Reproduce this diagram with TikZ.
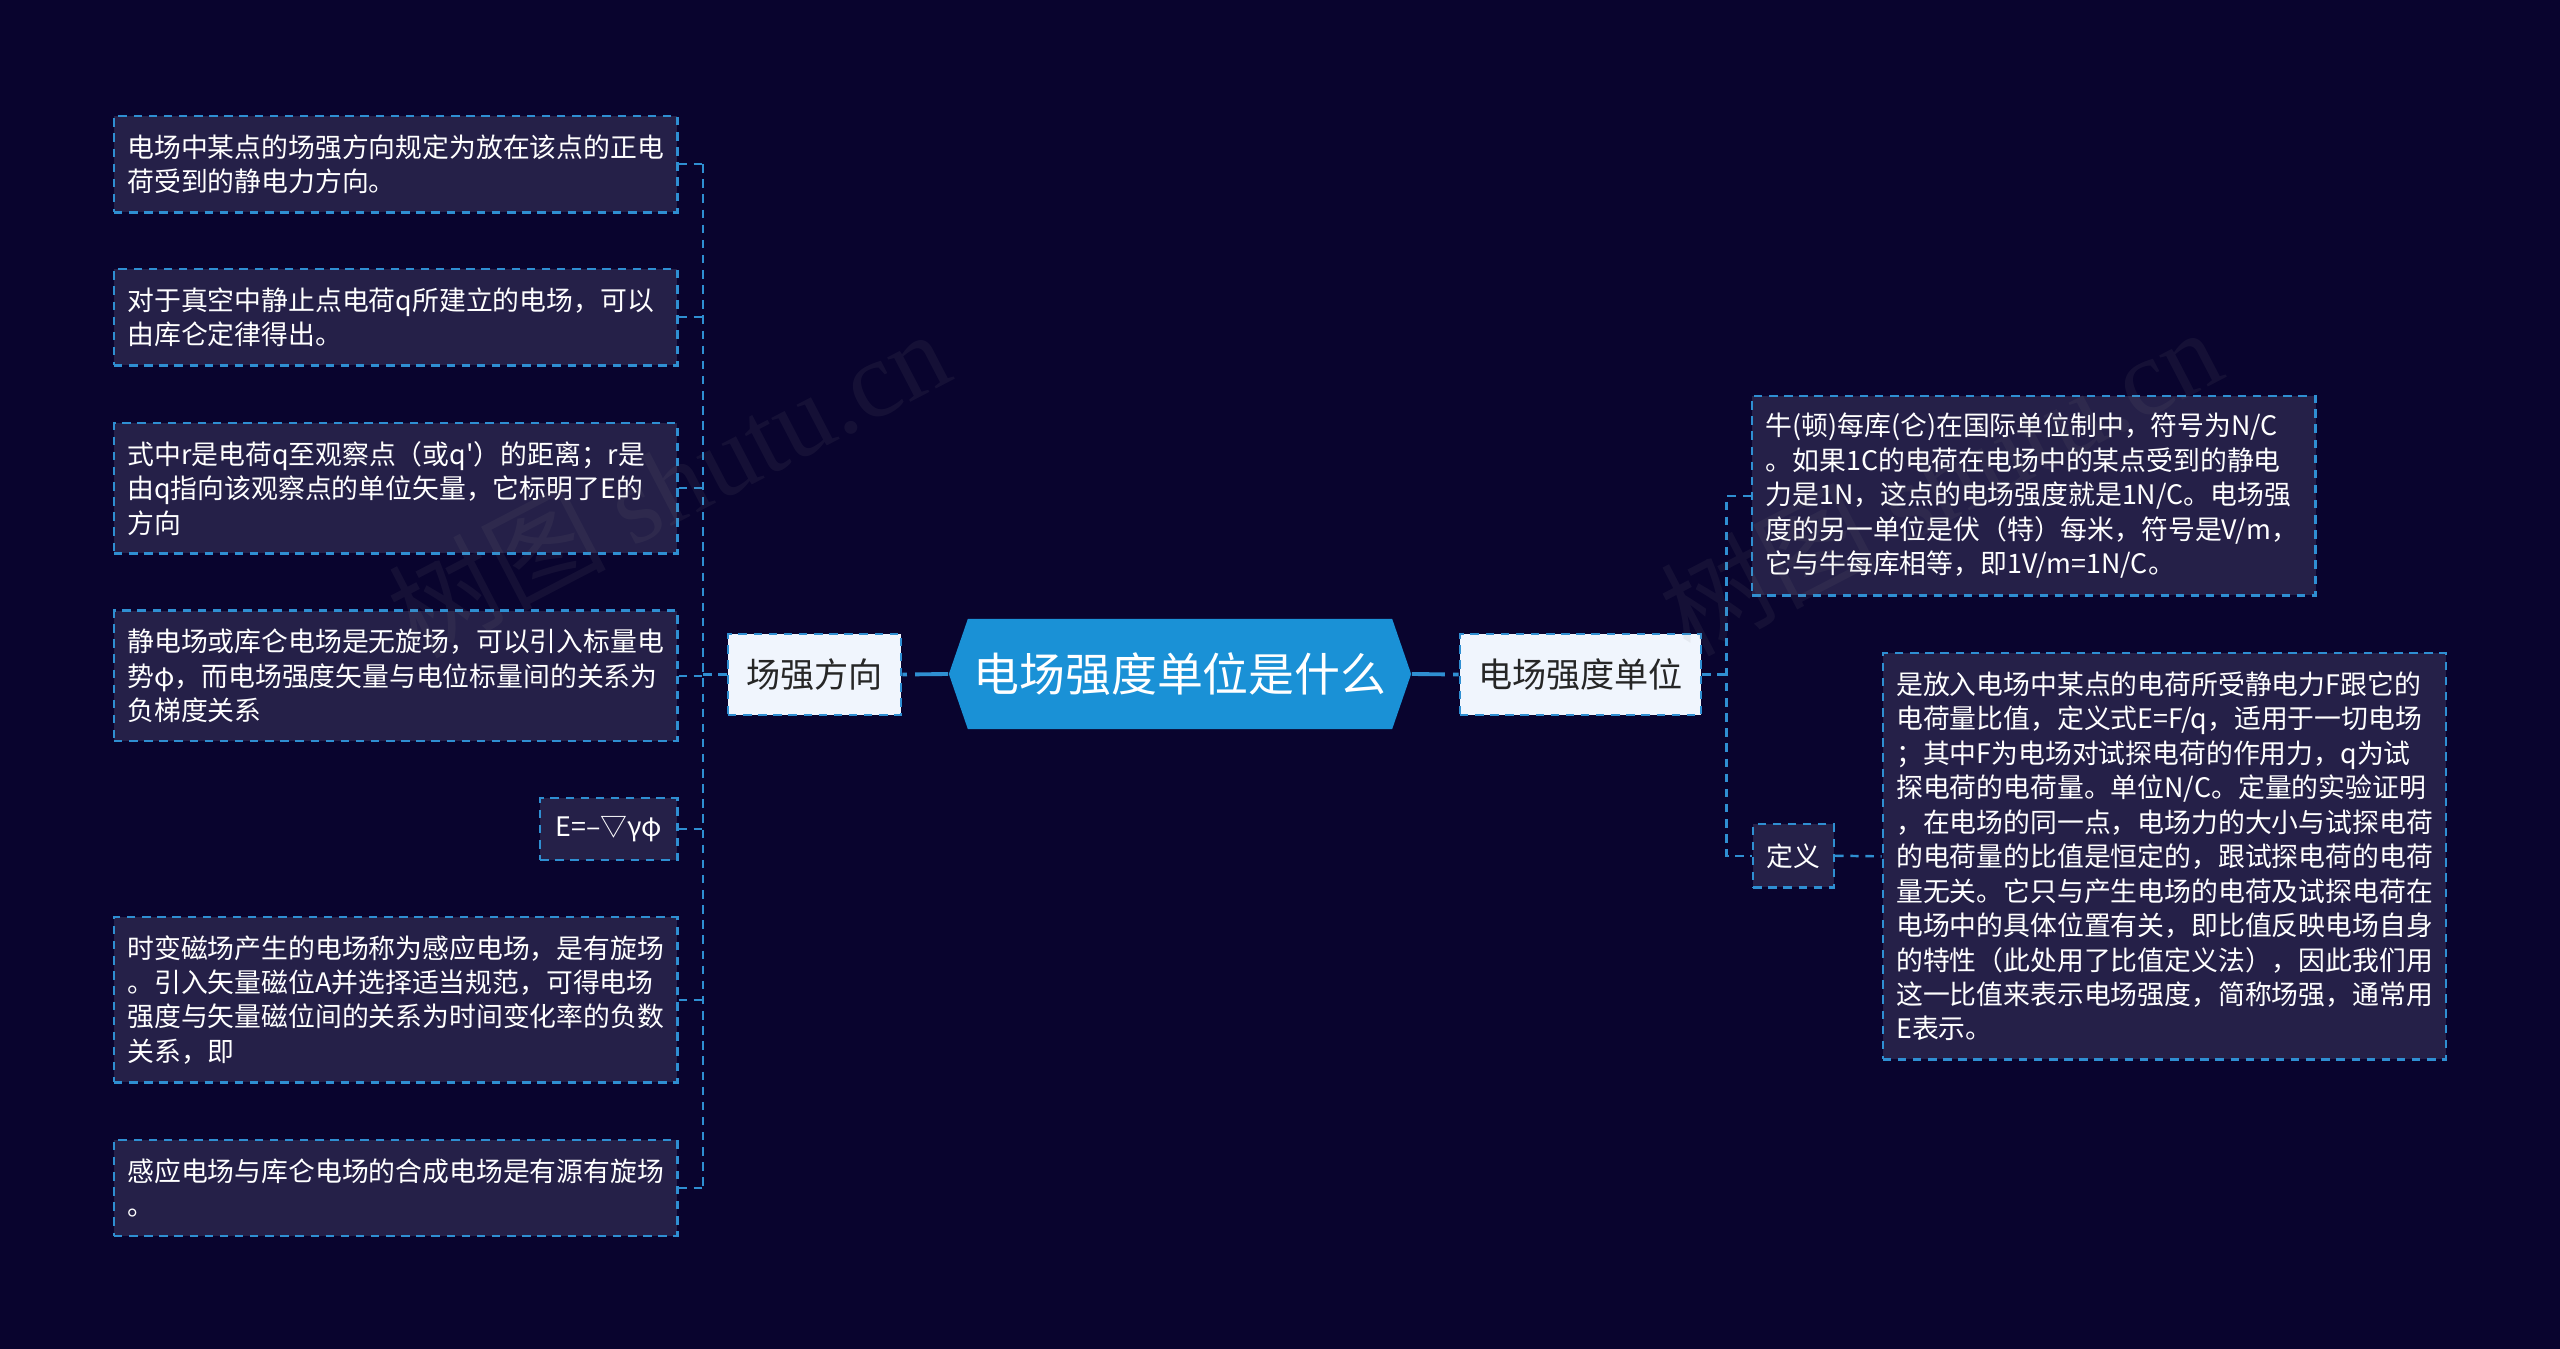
\documentclass[tikz,border=0pt]{standalone}
\usepackage{fontspec}
\setmainfont{Noto Sans CJK SC}
\newfontfamily\markfont{Liberation Serif}
\usetikzlibrary{shapes.symbols}
\definecolor{bgnavy}{HTML}{09042E}
\definecolor{leaffill}{HTML}{252048}
\definecolor{dashblue}{HTML}{2F8FD2}
\definecolor{rootblue}{HTML}{1A91D6}
\definecolor{branchfill}{HTML}{F0F5FD}
\tikzset{
  leafbox/.style={draw=dashblue,fill=leaffill,text=white,line width=0.7pt,dash pattern=on 2.4pt off 1.9pt,
    font=\fontsize{7.63pt}{9.8pt}\selectfont,align=left,inner xsep=0.135cm,inner ysep=0pt},
  leftleaf/.style={leafbox,anchor=north east,text width=5.36cm},
  branchbox/.style={leafbox,fill=branchfill,text=black!85,font=\fontsize{9.7pt}{12pt}\selectfont,inner sep=0pt,align=center},
  rootbox/.style={signal,signal to=west and east,signal pointer angle=142,fill=rootblue,text=white,
    font=\fontsize{13.05pt}{15pt}\selectfont,minimum width=4.62cm,minimum height=1.1cm,inner sep=0pt},
  link/.style={draw=dashblue,line width=0.7pt,dash pattern=on 2.4pt off 1.9pt},
  mainlink/.style={draw=dashblue,line width=1.1pt,dash pattern=on 9.4pt off 2.3pt},
  markbox/.style={text=gray,opacity=0.1,rotate=27.5,font=\fontsize{31pt}{31pt}\selectfont}
}
\begin{document}
\begin{tikzpicture}[x=0.01cm,y=-0.01cm]
\fill[bgnavy] (0,0) rectangle (2560,1349);
\useasboundingbox (0,0) rectangle (2560,1349);

\node[rootbox] (root) at (1180,674) {电场强度单位是什么};
\node[branchbox,minimum width=1.73cm,minimum height=0.81cm] (fangxiang) at (814.5,674.5) {场强方向};
\node[branchbox,minimum width=2.41cm,minimum height=0.81cm] (danwei) at (1580.5,674.5) {电场强度单位};

\node[leftleaf,minimum height=0.96cm] (l1) at (678.5,115) {电场中某点的场强方向规定为放在该点的正电\\荷受到的静电力方向。};
\node[leftleaf,minimum height=0.96cm] (l2) at (678.5,268) {对于真空中静止点电荷q所建立的电场，可以\\由库仑定律得出。};
\node[leftleaf,minimum height=1.30cm] (l3) at (678.5,422) {式中r是电荷q至观察点（或q\textquotesingle）的距离；r是\\由q指向该观察点的单位矢量，它标明了E的\\方向};
\node[leftleaf,minimum height=1.30cm] (l4) at (678.5,609.5) {静电场或库仑电场是无旋场，可以引入标量电\\势φ，而电场强度矢量与电位标量间的关系为\\负梯度关系};
\node[leafbox,anchor=north east,minimum width=1.37cm,minimum height=0.62cm] (l5) at (678.5,797) {E=–▽γφ};
\node[leftleaf,minimum height=1.65cm] (l6) at (678.5,916) {时变磁场产生的电场称为感应电场，是有旋场\\。引入矢量磁位A并选择适当规范，可得电场\\强度与矢量磁位间的关系为时间变化率的负数\\关系，即};
\node[leftleaf,minimum height=0.96cm] (l7) at (678.5,1138.5) {感应电场与库仑电场的合成电场是有源有旋场\\。};

\node[leafbox,anchor=north west,text width=5.36cm,minimum height=1.99cm] (r1) at (1751,395) {牛(顿)每库(仑)在国际单位制中，符号为N/C\\。如果1C的电荷在电场中的某点受到的静电\\力是1N，这点的电场强度就是1N/C。电场强\\度的另一单位是伏（特）每米，符号是V/m，\\它与牛每库相等，即1V/m=1N/C。};
\node[leafbox,anchor=north west,minimum width=0.80cm,minimum height=0.63cm] (dingyi) at (1752,823) {定义};
\node[leafbox,anchor=north west,text width=5.36cm,minimum height=4.06cm] (r2) at (1881.5,652) {是放入电场中某点的电荷所受静电力F跟它的\\电荷量比值，定义式E=F/q，适用于一切电场\\；其中F为电场对试探电荷的作用力，q为试\\探电荷的电荷量。单位N/C。定量的实验证明\\，在电场的同一点，电场力的大小与试探电荷\\的电荷量的比值是恒定的，跟试探电荷的电荷\\量无关。它只与产生电场的电荷及试探电荷在\\电场中的具体位置有关，即比值反映电场自身\\的特性（此处用了比值定义法），因此我们用\\这一比值来表示电场强度，简称场强，通常用\\E表示。};

\coordinate (lspine) at (703,674.5);
\coordinate (rspine) at (1726.5,674.5);

\draw[mainlink] (root.west) -- (fangxiang.east);
\draw[mainlink] (root.east) -- (danwei.west);
\draw[link] (fangxiang.west) -- (lspine);
\draw[link] (danwei.east) -- (rspine);
\foreach \leaf in {l1,l2,l3,l4,l5,l6,l7}
  \draw[link] (\leaf.east) -- (\leaf.east -| lspine);
\draw[link] (l1.east -| lspine) -- (l7.east -| lspine);
\draw[link] (r1.west) -- (r1.west -| rspine) -- (dingyi.west -| rspine) -- (dingyi.west);
\draw[link] (dingyi.east) -- (r2.west);

\foreach \markx/\marky/\markname in {668/482/mark1,1940/480/mark2}
  \node[markbox] (\markname) at (\markx,\marky) {树图 {\markfont shutu.cn}};
\end{tikzpicture}
\end{document}
